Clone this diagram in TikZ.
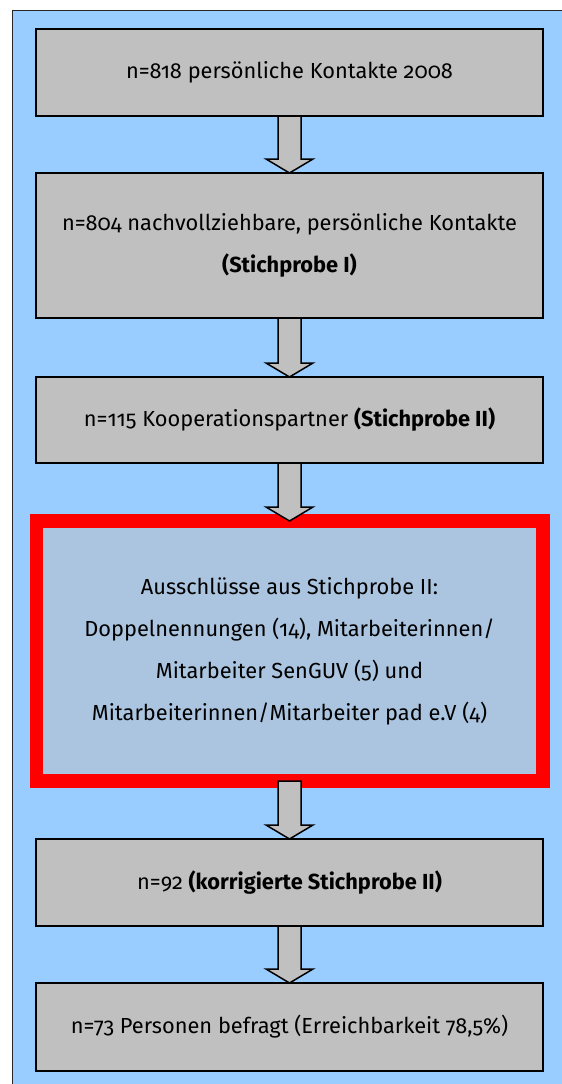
\documentclass[tikz,border=0pt]{standalone}
\usepackage{fontspec}
\setmainfont{Fira Sans}[Numbers=OldStyle]
\usetikzlibrary{calc}
\definecolor{bgblue}{RGB}{153,204,255}
\definecolor{boxgray}{RGB}{192,192,192}
\definecolor{innerblue}{RGB}{171,197,224}
\tikzset{
  flowbox/.style={draw=black, line width=1.5pt, fill=boxgray, minimum width=507pt,
    inner sep=0pt, outer sep=0pt, align=center, font=\fontsize{21.8}{42}\selectfont},
  redbox/.style={flowbox, draw=red, line width=13.7pt, fill=innerblue, minimum width=506.3pt},
  flowarrow/.style={draw=black, line width=1.5pt, fill=boxgray, line join=miter},
  frame/.style={draw=black!85, line width=1.3pt, fill=bgblue}
}
\newcommand{\flowarr}[2]{%
  \draw[flowarrow] let \p1=(#1.south), \p2=(#2.north) in
    (\x1-11.5pt,\y1) -- (\x1-11.5pt,\y2+14pt) -- (\x1-23.5pt,\y2+14pt) -- (\x1,\y2)
    -- (\x1+23.5pt,\y2+14pt) -- (\x1+11.5pt,\y2+14pt) -- (\x1+11.5pt,\y1) -- cycle;}
\begin{document}
\begin{tikzpicture}[x=1pt,y=1pt]
  \useasboundingbox (0,0) rectangle (562,-1084);
  \clip (0,0) rectangle (562,-1084);
  \draw[frame] (12.7,-10.7) rectangle (600,-1120);
  \node[flowbox, minimum height=87pt] (b1) at (289.5,-72.5) {n=818 persönliche Kontakte 2008};
  \node[flowbox, minimum height=145pt] (b2) at (289.5,-245.5) {n=804 nachvollziehbare, persönliche Kontakte\\ \textbf{(Stichprobe I)}};
  \node[flowbox, minimum height=86pt] (b3) at (289.5,-420) {n=115 Kooperationspartner \textbf{(Stichprobe II)}};
  \node[redbox, minimum height=260pt] (b4) at (289.5,-651) {Ausschlüsse aus Stichprobe II:\\ Doppelnennungen (14), Mitarbeiterinnen/\\ Mitarbeiter SenGUV (5) und\\ Mitarbeiterinnen/Mitarbeiter pad e.V (4)};
  \node[flowbox, minimum height=87pt] (b5) at (289.5,-882.5) {n=92 \textbf{(korrigierte Stichprobe II)}};
  \node[flowbox, minimum height=88pt] (b6) at (289.5,-1027) {n=73 Personen befragt (Erreichbarkeit 78,5\%)};
  \flowarr{b1}{b2}
  \flowarr{b2}{b3}
  \flowarr{b3}{b4}
  \flowarr{b4}{b5}
  \flowarr{b5}{b6}
\end{tikzpicture}
\end{document}
